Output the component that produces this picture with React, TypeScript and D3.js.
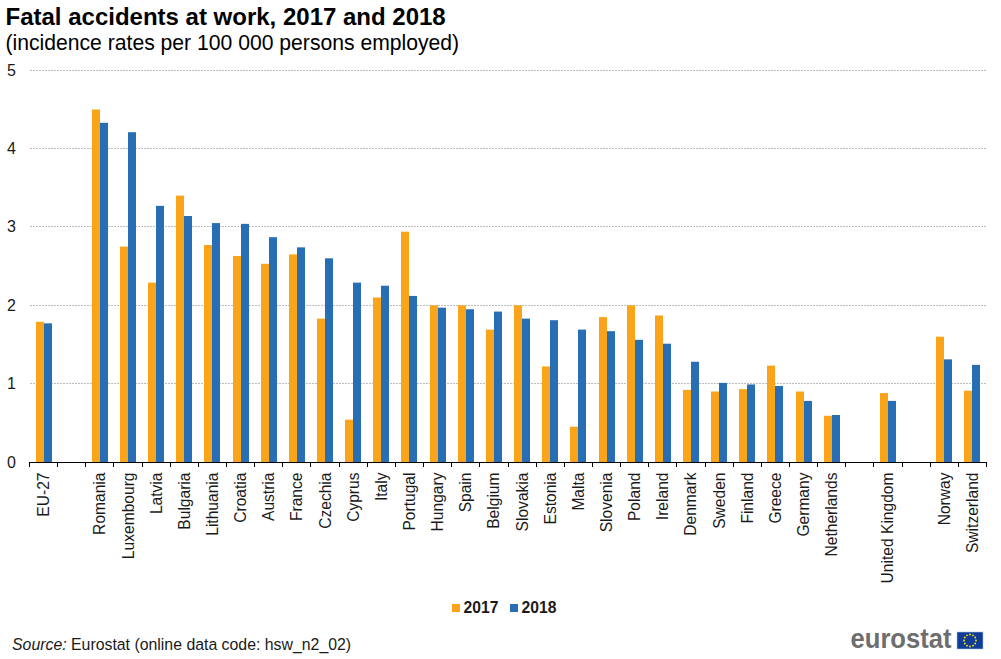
import React from "react";
import * as d3 from "d3";

const categories = ["EU-27","_a","Romania","Luxembourg","Latvia","Bulgaria","Lithuania","Croatia","Austria","France","Czechia","Cyprus","Italy","Portugal","Hungary","Spain","Belgium","Slovakia","Estonia","Malta","Slovenia","Poland","Ireland","Denmark","Sweden","Finland","Greece","Germany","Netherlands","_b","United Kingdom","_c","Norway","Switzerland"];
const values2017 = [1.79,null,4.5,2.75,2.29,3.4,2.77,2.63,2.53,2.65,1.83,0.54,2.1,2.94,2.0,2.0,1.69,2.0,1.22,0.45,1.85,2.0,1.87,0.92,0.9,0.93,1.23,0.9,0.59,null,0.88,null,1.6,0.91];
const values2018 = [1.77,null,4.33,4.21,3.27,3.14,3.05,3.04,2.87,2.74,2.6,2.29,2.25,2.12,1.97,1.95,1.92,1.83,1.81,1.69,1.67,1.56,1.51,1.28,1.01,0.99,0.97,0.78,0.6,null,0.78,null,1.31,1.24];
const yTicks = [0,1,2,3,4,5];
const seriesNames = ["2017","2018"];
const colors = ["#FAA519","#286EB4"];
const font = "'Liberation Sans', Arial, sans-serif";

export default function App() {
  const x = d3.scaleBand<string>().domain(categories).range([29.5, 986.5]);
  const y = d3.scaleLinear().domain([0, 5]).range([462, 70.3]);
  const step = x.step();
  const barW = 8;
  const series = [values2017, values2018];
  const stars = d3.range(12).map((i) => (i * Math.PI) / 6);
  return (
    <svg width={1001} height={659} style={{ position: "absolute", left: 0, top: 0, background: "#fff" }} fontFamily={font}>
      <text x={5.5} y={25} fontSize={24} fontWeight="bold" fill="#000">Fatal accidents at work, 2017 and 2018</text>
      <text x={5.5} y={50} fontSize={21.15} fill="#000">(incidence rates per 100 000 persons employed)</text>

      {yTicks.filter((t) => t > 0).map((t) => (
        <line key={t} x1={30} x2={987} y1={Math.floor(y(t)) + 0.5} y2={Math.floor(y(t)) + 0.5} stroke="#bdbdbd" strokeWidth={1} strokeDasharray="2 1" />
      ))}
      {yTicks.map((t) => (
        <text key={t} x={11.5} y={y(t) + 5.5} fontSize={16} textAnchor="middle" fill="#1a1a1a">{t}</text>
      ))}

      {series.map((vals, s) =>
        vals.map((v, i) =>
          v == null ? null : (
            <rect key={`${s}-${i}`} x={Math.round(x(categories[i])! + step / 2) - barW + s * barW} y={y(v)} width={barW} height={y(0) - y(v)} fill={colors[s]} />
          )
        )
      )}

      <line x1={29.5} x2={987} y1={462.5} y2={462.5} stroke="#000" />
      {d3.range(categories.length + 1).map((i) => {
        const px = Math.floor(29.5 + i * step) + 0.5;
        return <line key={i} x1={px} x2={px} y1={462} y2={467} stroke="#000" />;
      })}
      {categories.map((c) =>
        c.startsWith("_") ? null : (
          <text key={c} transform={`translate(${x(c)! + step / 2 + 5.5},472.5) rotate(-90) scale(1,1.08)`} fontSize={15.6} textAnchor="end" fill="#1a1a1a">{c}</text>
        )
      )}

      {seriesNames.map((n, i) => (
        <g key={n} transform={`translate(${452 + i * 58},0)`}>
          <rect x={0} y={604} width={8} height={8} fill={colors[i]} />
          <text x={11.5} y={613} fontSize={15.7} fontWeight="bold" fill="#1a1a1a">{n}</text>
        </g>
      ))}

      <text x={12} y={649.5} fontSize={15.85} fill="#1a1a1a"><tspan fontStyle="italic">Source:</tspan> Eurostat (online data code: hsw_n2_02)</text>

      <text x={850.5} y={648} fontSize={28} fontWeight="bold" fill="#6e6e6e" textLength={101} lengthAdjust="spacingAndGlyphs">eurostat</text>
      <rect x={957} y={632} width={26} height={17} fill="#0F3C96" stroke="#a9c4e6" strokeWidth={0.6} />
      {stars.map((a, i) => (
        <circle key={i} cx={970 + 6 * Math.sin(a)} cy={640.5 - 6 * Math.cos(a)} r={0.9} fill="#FFE400" />
      ))}
    </svg>
  );
}
